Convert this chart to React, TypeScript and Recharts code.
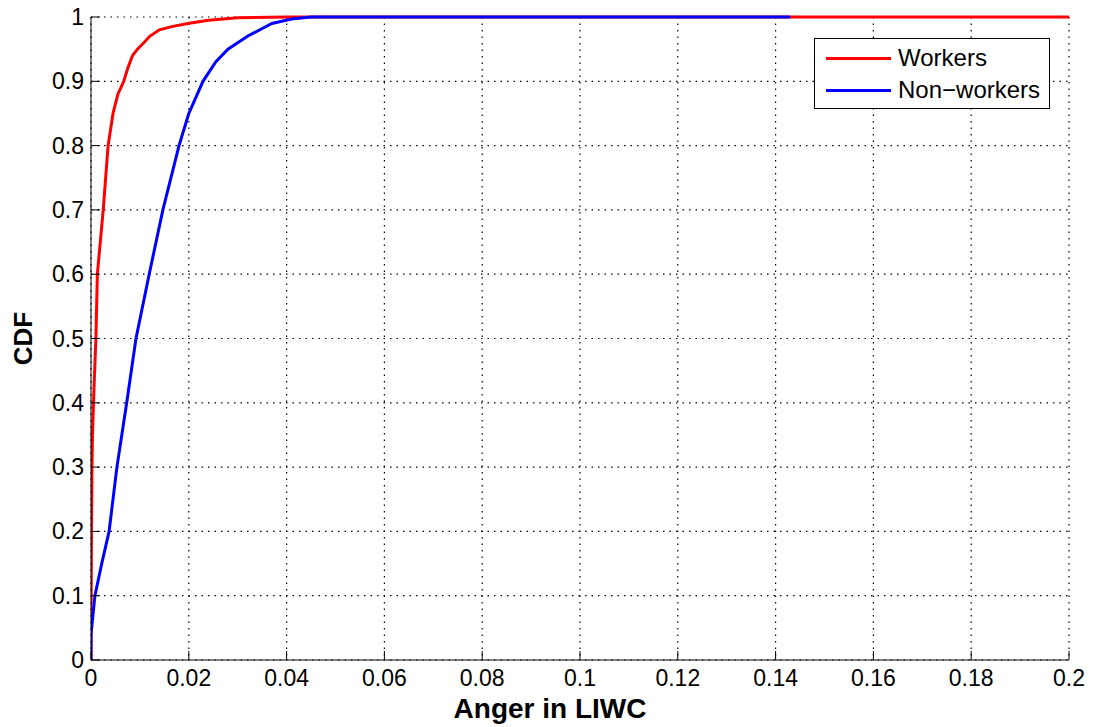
import React from 'react';
import { LineChart, Line, XAxis, YAxis, CartesianGrid } from 'recharts';

const xTicks = [0, 0.02, 0.04, 0.06, 0.08, 0.1, 0.12, 0.14, 0.16, 0.18, 0.2];
const xTickLabels = ['0', '0.02', '0.04', '0.06', '0.08', '0.1', '0.12', '0.14', '0.16', '0.18', '0.2'];
const yTicks = [0, 0.1, 0.2, 0.3, 0.4, 0.5, 0.6, 0.7, 0.8, 0.9, 1];
const yTickLabels = ['0', '0.1', '0.2', '0.3', '0.4', '0.5', '0.6', '0.7', '0.8', '0.9', '1'];

const seriesNames = ['Workers', 'Non\u2212workers'];
const seriesColors = ['#ff0000', '#0000ff'];

const workersX = [0, 0, 0.0001, 0.0002, 0.0003, 0.0006, 0.001, 0.0013, 0.0019, 0.0025, 0.003, 0.0035, 0.0045, 0.0055, 0.0067, 0.0075, 0.0085, 0.0095, 0.0108, 0.012, 0.014, 0.0165, 0.0198, 0.024, 0.03, 0.04, 0.2];
const workersY = [0, 0.06, 0.2, 0.3, 0.35, 0.42, 0.5, 0.6, 0.65, 0.7, 0.75, 0.8, 0.85, 0.88, 0.9, 0.92, 0.94, 0.95, 0.96, 0.97, 0.98, 0.985, 0.99, 0.995, 0.999, 1, 1];

const nonWorkersX = [0, 0, 0.0008, 0.0022, 0.0037, 0.0053, 0.0073, 0.0092, 0.0119, 0.0147, 0.018, 0.02, 0.0229, 0.0255, 0.028, 0.032, 0.037, 0.041, 0.045, 0.143];
const nonWorkersY = [0, 0.04, 0.1, 0.15, 0.2, 0.3, 0.4, 0.5, 0.6, 0.7, 0.8, 0.85, 0.9, 0.93, 0.95, 0.97, 0.99, 0.997, 1, 1];

const workersData = workersX.map((x, i) => ({ x, y: workersY[i] }));
const nonWorkersData = nonWorkersX.map((x, i) => ({ x, y: nonWorkersY[i] }));

const FONT = '"Liberation Sans", Arial, sans-serif';

const BottomTick = (props: any) => {
  const { x, y, payload } = props;
  const idx = xTicks.indexOf(payload.value);
  return (
    <g>
      <line x1={x} x2={x} y1={y} y2={y - 9} stroke="#000" strokeWidth={1} />
      <text x={x} y={y + 26} textAnchor="middle" fontSize={23} fontFamily={FONT} fill="#000">
        {idx >= 0 ? xTickLabels[idx] : payload.value}
      </text>
    </g>
  );
};

const TopTick = (props: any) => {
  const { x, y } = props;
  return <line x1={x} x2={x} y1={y} y2={y + 9} stroke="#000" strokeWidth={1} />;
};

const LeftTick = (props: any) => {
  const { x, y, payload } = props;
  const idx = yTicks.indexOf(payload.value);
  return (
    <g>
      <line x1={x} x2={x + 9} y1={y} y2={y} stroke="#000" strokeWidth={1} />
      <text x={x - 7} y={y + 8} textAnchor="end" fontSize={23} fontFamily={FONT} fill="#000">
        {idx >= 0 ? yTickLabels[idx] : payload.value}
      </text>
    </g>
  );
};

const RightTick = (props: any) => {
  const { x, y } = props;
  return <line x1={x} x2={x - 9} y1={y} y2={y} stroke="#000" strokeWidth={1} />;
};

const XTitle = (props: any) => {
  const vb = props.viewBox || {};
  const cx = (vb.x ?? 91) + (vb.width ?? 978) / 2 - 30;
  const by = (vb.y ?? 660) + 58;
  return (
    <text x={cx} y={by} textAnchor="middle" fontSize={28} fontWeight="bold" fontFamily={FONT} fill="#000">
      Anger in LIWC
    </text>
  );
};

const YTitle = (props: any) => {
  const vb = props.viewBox || {};
  const cy = (vb.y ?? 17) + (vb.height ?? 643) / 2;
  const cx = 32;
  return (
    <text x={cx} y={cy} transform={`rotate(-90 ${cx} ${cy})`} textAnchor="middle" fontSize={26} fontWeight="bold" fontFamily={FONT} fill="#000">
      CDF
    </text>
  );
};

const LegendBox = () => (
  <div
    style={{
      position: 'absolute',
      left: 814,
      top: 38,
      width: 234,
      height: 69,
      border: '1px solid #000',
      background: '#fff',
      fontFamily: FONT,
      fontSize: 24,
    }}
  >
    {seriesNames.map((name, i) => (
      <div key={name} style={{ position: 'absolute', left: 11, top: (i === 0 ? 19 : 51) - 14, height: 28, display: 'flex', alignItems: 'center', whiteSpace: 'nowrap' }}>
        <div style={{ width: 65, height: 3, background: seriesColors[i] }} />
        <span style={{ marginLeft: 7, lineHeight: '28px', color: '#000' }}>{name}</span>
      </div>
    ))}
  </div>
);

export default function App() {
  return (
    <div style={{ position: 'absolute', left: 0, top: 0, width: 1093, height: 727, background: '#fff' }}>
      <LineChart width={1093} height={727} margin={{ top: 17, right: 24, bottom: 0, left: 0 }}>
        <CartesianGrid stroke="#000" strokeDasharray="1.5 5" strokeWidth={1.2} />
        <XAxis
          dataKey="x"
          type="number"
          domain={[0, 0.2]}
          ticks={xTicks}
          allowDataOverflow
          height={67}
          tickSize={0}
          tickMargin={0}
          tickLine={false}
          axisLine={{ stroke: '#000' }}
          tick={<BottomTick />}
          interval={0}
          label={<XTitle />}
        />
        <XAxis
          xAxisId="top"
          orientation="top"
          dataKey="x"
          type="number"
          domain={[0, 0.2]}
          ticks={xTicks}
          height={0}
          tickSize={0}
          tickMargin={0}
          tickLine={false}
          axisLine={{ stroke: '#000' }}
          tick={<TopTick />}
          interval={0}
        />
        <YAxis
          dataKey="y"
          type="number"
          domain={[0, 1]}
          ticks={yTicks}
          width={91}
          tickSize={0}
          tickMargin={0}
          tickLine={false}
          axisLine={{ stroke: '#000' }}
          tick={<LeftTick />}
          interval={0}
          label={<YTitle />}
        />
        <YAxis
          yAxisId="right"
          orientation="right"
          type="number"
          domain={[0, 1]}
          ticks={yTicks}
          width={0}
          tickSize={0}
          tickMargin={0}
          tickLine={false}
          axisLine={{ stroke: '#000' }}
          tick={<RightTick />}
          interval={0}
        />
        <Line data={workersData} dataKey="y" type="linear" stroke={seriesColors[0]} strokeWidth={3} dot={false} isAnimationActive={false} name="Workers" />
        <Line data={nonWorkersData} dataKey="y" type="linear" stroke={seriesColors[1]} strokeWidth={3} dot={false} isAnimationActive={false} name="Non-workers" />
      </LineChart>
      <LegendBox />
    </div>
  );
}
